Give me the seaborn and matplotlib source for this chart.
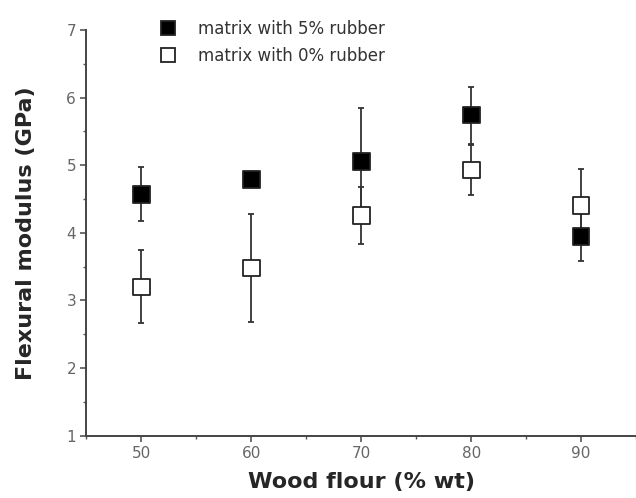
import pandas as pd
import matplotlib
matplotlib.use('Agg')
import matplotlib.pyplot as plt
import seaborn as sns
from matplotlib.ticker import MultipleLocator

# values
wood_flour = [50, 60, 70, 80, 90]
rubber5 = [4.57, 4.79, 5.05, 5.74, 3.95]
rubber5_err = [0.40, 0.08, 0.80, 0.42, 0.36]
rubber0 = [3.20, 3.48, 4.26, 4.93, 4.40]
rubber0_err = [0.54, 0.80, 0.42, 0.37, 0.55]
labels = ['matrix with 5% rubber', 'matrix with 0% rubber']

df = pd.DataFrame({
    'wood': wood_flour * 2,
    'modulus': rubber5 + rubber0,
    'err': rubber5_err + rubber0_err,
    'series': [labels[0]] * 5 + [labels[1]] * 5,
})

sns.set_style('ticks')
plt.rcParams['font.family'] = ['DejaVu Sans']

fig = plt.figure(figsize=(6.36, 4.98), dpi=100)
ax = fig.add_axes([0.136, 0.125, 0.864, 0.815])

# error bars first, markers on top
for name in labels:
    sub = df[df['series'] == name]
    ax.errorbar(sub['wood'], sub['modulus'], yerr=sub['err'], fmt='none',
                ecolor='#333333', elinewidth=1.3, capsize=2.5, capthick=1.3, zorder=2)

sns.scatterplot(data=df, x='wood', y='modulus', hue='series', style='series',
                palette={labels[0]: 'black', labels[1]: 'white'},
                markers={labels[0]: 's', labels[1]: 's'},
                edgecolor='#222222', linewidth=1.3, s=145, ax=ax, zorder=3)

ax.set_xlim(45, 95)
ax.set_ylim(1, 7)
ax.xaxis.set_major_locator(MultipleLocator(10))
ax.xaxis.set_minor_locator(MultipleLocator(5))
ax.yaxis.set_major_locator(MultipleLocator(1))
ax.yaxis.set_minor_locator(MultipleLocator(0.5))
ax.tick_params(which='major', length=4, width=1.2, colors='#555555', labelsize=11)
ax.tick_params(which='minor', length=2.5, width=1.0, colors='#555555')
for t in ax.get_xticklabels() + ax.get_yticklabels():
    t.set_color('#666666')
for side in ['top', 'right']:
    ax.spines[side].set_visible(False)
for side in ['left', 'bottom']:
    ax.spines[side].set_color('#444444')
    ax.spines[side].set_linewidth(1.4)

ax.set_xlabel('Wood flour (% wt)', fontsize=16, fontweight='bold', labelpad=8)
ax.set_ylabel('Flexural modulus (GPa)', fontsize=16, fontweight='bold', labelpad=22)

leg = ax.legend(loc='upper left', bbox_to_anchor=(0.09, 1.062), frameon=False,
                fontsize=12, handletextpad=0.8, labelspacing=0.55, markerscale=0.85)
for t in leg.get_texts():
    t.set_color('#333333')

fig.savefig('out.png', dpi=100)
